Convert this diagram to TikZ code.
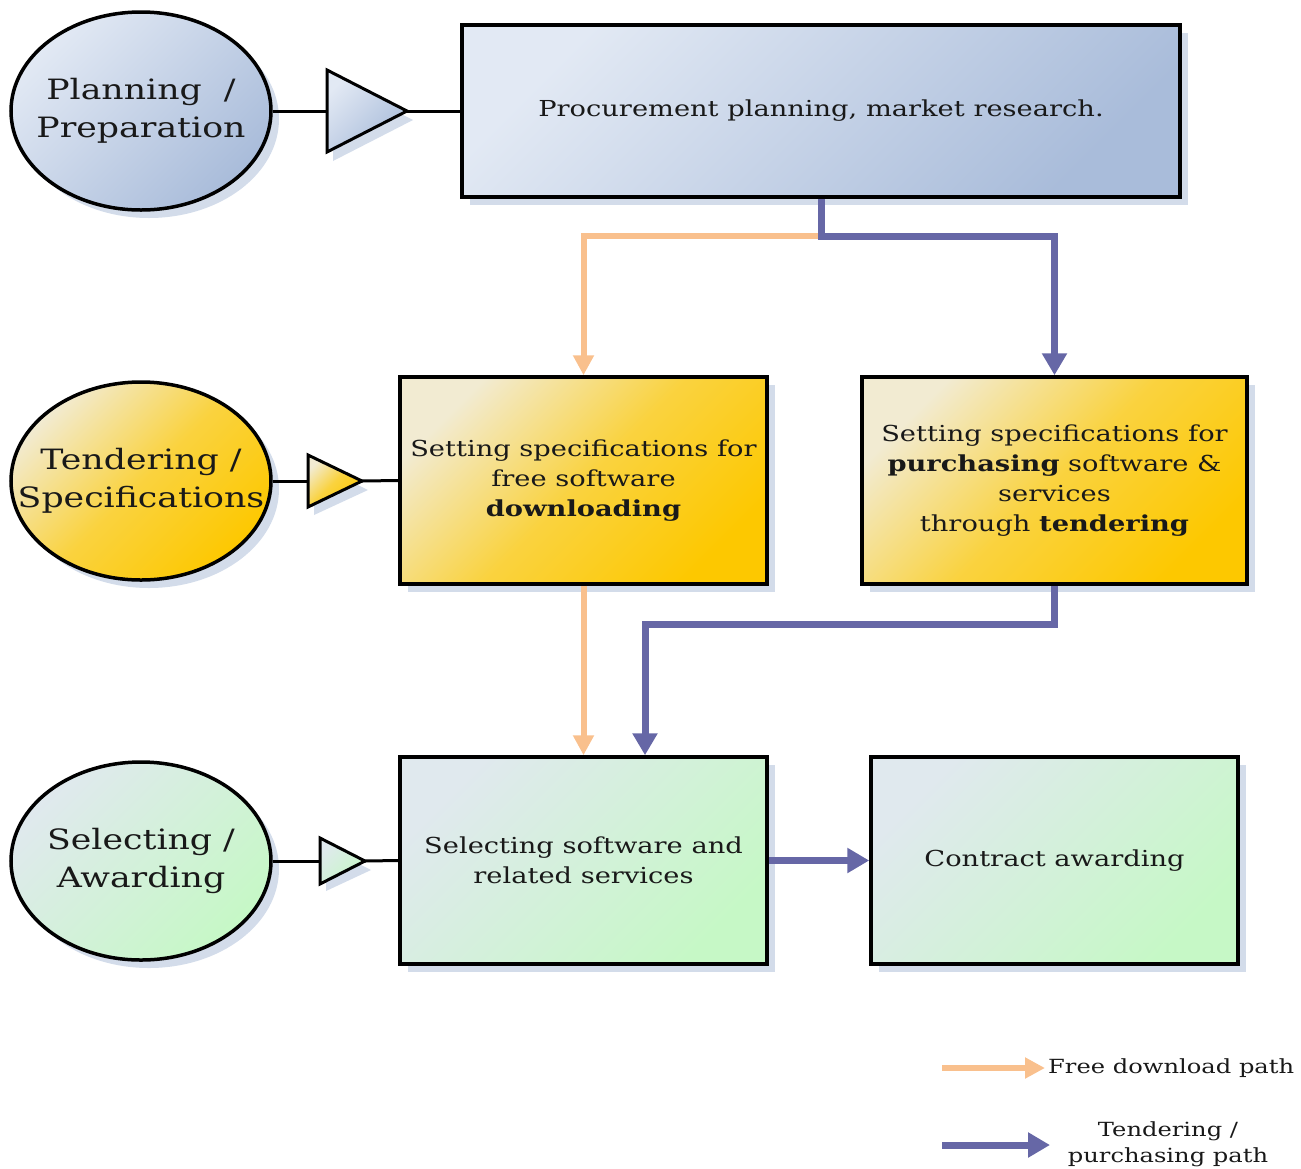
\documentclass[tikz,border=0pt]{standalone}
\usepackage{fontspec}
\setmainfont[FakeStretch=1.24]{DejaVu Serif}
\usetikzlibrary{arrows.meta,shapes.geometric,shadows}
\definecolor{blueL}{HTML}{E2E9F4}
\definecolor{blueD}{HTML}{A9BCDA}
\definecolor{yelL}{HTML}{F2EBD2}
\definecolor{yelD}{HTML}{FDC800}
\definecolor{greL}{HTML}{E0E9EE}
\definecolor{greD}{HTML}{C6F8C6}
\definecolor{orangeP}{HTML}{F9C08D}
\definecolor{purpleP}{HTML}{6667A6}
\definecolor{shadowC}{HTML}{D3DCEA}
\tikzset{
  base/.style={draw=black, line width=3.5pt,
    drop shadow={shadow xshift=8pt, shadow yshift=-8pt, fill=shadowC, opacity=1}},
  phase/.style={base, ellipse, minimum width=260pt, minimum height=198pt,
    inner xsep=-70pt, inner ysep=-30pt,
    align=center, font=\fontsize{28}{38}\selectfont, text=black!90},
  stage/.style={base, rectangle, inner sep=0pt, align=center,
    font=\fontsize{22}{30}\selectfont, text=black!90},
  bluefill/.style={top color=blueL, bottom color=blueD, shading angle=45},
  yelfill/.style={top color=yelL, bottom color=yelD, middle color=yelD!70!yelL, shading angle=45},
  grefill/.style={top color=greL, bottom color=greD, shading angle=45},
  tri/.style={draw=black, line width=3pt, line join=miter},
  link/.style={draw=black, line width=3pt},
  freepath/.style={draw=orangeP, line width=6pt, -{Triangle[length=20pt,width=20pt]}},
  buypath/.style={draw=purpleP, line width=7pt, -{Triangle[length=22pt,width=24pt]}},
  legendtext/.style={font=\fontsize{19.5}{26}\selectfont, align=center, text=black!90}
}
\begin{document}
\begin{tikzpicture}[x=1pt,y=-1pt]
\useasboundingbox (0,0) rectangle (1301,1168);
% phase ellipses
\node[phase, bluefill] (c1) at (141,111) {Planning \ /\\Preparation};
\node[phase, yelfill] (c2) at (141,481) {Tendering /\\Specifications};
\node[phase, grefill] (c3) at (141,861) {Selecting /\\Awarding};
% stage boxes
\node[stage, bluefill, minimum width=718pt, minimum height=172pt] (b1) at (821,111)
  {Procurement planning, market research.};
\node[stage, yelfill, minimum width=367pt, minimum height=207pt] (b2a) at (583.5,480.5)
  {Setting specifications for\\free software\\\textbf{downloading}};
\node[stage, yelfill, minimum width=385pt, minimum height=207pt] (b2b) at (1054.5,480.5)
  {Setting specifications for\\\textbf{purchasing} software \&\\services\\through \textbf{tendering}};
\node[stage, grefill, minimum width=367pt, minimum height=207pt] (b3a) at (583.5,860.5)
  {Selecting software and\\related services};
\node[stage, grefill, minimum width=367pt, minimum height=207pt] (b3b) at (1054.5,860.5)
  {Contract awarding};
% triangles
\coordinate (t1b) at (327,111); \coordinate (t1a) at (407,111);
\coordinate (t2b) at (308,481); \coordinate (t2a) at (362,481);
\coordinate (t3b) at (320,861); \coordinate (t3a) at (365,861);
\draw[link] (c1.east) -- (t1b);
\draw[link] (t1a) -- (b1.west);
\draw[link] (c2.east) -- (t2b);
\draw[link] (t2a) -- (b2a.west);
\draw[link] (c3.east) -- (t3b);
\draw[link] (t3a) -- (b3a.west);
\fill[shadowC] (333,79) -- (413,120) -- (333,161) -- cycle;
\draw[tri, bluefill] (327,70) -- (t1a) -- (327,152) -- cycle;
\fill[shadowC] (314,463) -- (368,490) -- (314,515) -- cycle;
\draw[tri, yelfill] (308,455) -- (t2a) -- (308,507) -- cycle;
\fill[shadowC] (326,847) -- (371,870) -- (326,891) -- cycle;
\draw[tri, grefill] (320,838) -- (t3a) -- (320,884) -- cycle;
% paths
\coordinate (split) at (821,236);
\draw[freepath] (split) -| (b2a.north);
\draw[buypath] (b1.south) -- (split) -| (b2b.north);
\draw[freepath] (b2a.south) -- (b3a.north);
\draw[buypath] (b2b.south) -- ++(0,39) -| ([xshift=61.5pt]b3a.north);
\draw[buypath] (b3a.east) -- (b3b.west);
% legend
\coordinate (l1s) at (942,1068); \coordinate (l1e) at (1045,1068);
\coordinate (l2s) at (942,1145); \coordinate (l2e) at (1050,1145);
\draw[freepath] (l1s) -- (l1e);
\draw[buypath] (l2s) -- (l2e);
\node[legendtext, anchor=west, inner sep=3pt] (lt1) at (l1e) {Free download path};
\node[legendtext, inner sep=0pt] (lt2) at (1168,1144) {Tendering /\\purchasing path};
\end{tikzpicture}
\end{document}
